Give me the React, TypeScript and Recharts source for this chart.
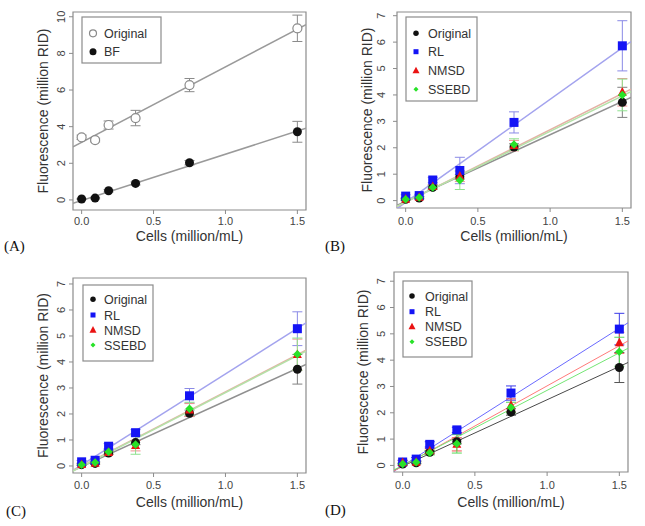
import React from "react";
import {
  ComposedChart,
  Scatter,
  XAxis,
  YAxis,
  ErrorBar,
  ReferenceLine,
  ReferenceArea,
} from "recharts";

// cell concentrations (million/mL), shared by every panel
const cells = [0, 0.09375, 0.1875, 0.375, 0.75, 1.5];
const cellTicks = [0, 0.5, 1, 1.5];
// the fitted lines are read where they meet the plot box
const fitEnds = [-0.06, 1.56];
const ticksA = [0, 2, 4, 6, 8, 10];
const ticks7 = [0, 1, 2, 3, 4, 5, 6, 7];

// (A) raw signal vs background-free
const rawOriginal = [3.42, 3.27, 4.09, 4.47, 6.27, 9.37];
const rawOriginalSd = [0.12, 0.1, 0.22, 0.42, 0.36, 0.72];
const rawOriginalFit = [2.9, 9.57];
const bf = [0.05, 0.1, 0.5, 0.9, 2.03, 3.72];
const bfSd = [0.03, 0.04, 0.06, 0.08, 0.12, 0.57];
const bfFit = [-0.18, 3.91];

// (B)
const rlB = [0.17, 0.19, 0.78, 1.14, 2.96, 5.86];
const rlBSd = [0.05, 0.05, 0.1, 0.5, 0.4, 0.95];
const rlBFit = [-0.3, 6.02];
const nmsdB = [0.05, 0.12, 0.53, 0.92, 2.08, 4.1];
const nmsdBSd = [0.03, 0.04, 0.08, 0.2, 0.2, 0.52];
const nmsdBFit = [-0.23, 4.22];
const ssebdB = [0.05, 0.12, 0.5, 0.77, 2.12, 4.0];
const ssebdBSd = [0.03, 0.04, 0.08, 0.35, 0.22, 0.6];
const ssebdBFit = [-0.22, 4.12];

// (C)
const rlC = [0.16, 0.22, 0.76, 1.28, 2.7, 5.28];
const rlCSd = [0.05, 0.05, 0.1, 0.12, 0.28, 0.65];
const rlCFit = [-0.17, 5.5];
const nmsdC = [0.05, 0.1, 0.52, 0.78, 2.15, 4.28];
const nmsdCSd = [0.03, 0.04, 0.08, 0.2, 0.25, 0.6];
const nmsdCFit = [-0.18, 4.45];
const ssebdC = [0.05, 0.13, 0.55, 0.83, 2.2, 4.3];
const ssebdCSd = [0.03, 0.04, 0.08, 0.38, 0.25, 0.62];
const ssebdCFit = [-0.2, 4.42];

// (D)
const rlD = [0.13, 0.24, 0.8, 1.35, 2.75, 5.18];
const rlDSd = [0.05, 0.06, 0.1, 0.1, 0.27, 0.6];
const rlDFit = [-0.22, 5.42];
const nmsdD = [0.1, 0.12, 0.55, 0.8, 2.28, 4.66];
const nmsdDSd = [0.1, 0.04, 0.08, 0.25, 0.25, 0.4];
const nmsdDFit = [-0.21, 4.73];
const ssebdD = [0.05, 0.12, 0.48, 0.82, 2.2, 4.32];
const ssebdDSd = [0.03, 0.04, 0.08, 0.35, 0.2, 0.55];
const ssebdDFit = [-0.17, 4.45];

const pts = (ys: number[], sds: number[]) =>
  cells.map((x, i) => ({ x, y: ys[i], sd: sds[i] }));

const FONT = "'Liberation Sans', Arial, sans-serif";
const BOX = "#8c8c8c";

function mark(shape: string, cx: number, cy: number, s: number, fill: string, key?: any) {
  if (shape === "square")
    return <rect key={key} x={cx - s / 2} y={cy - s / 2} width={s} height={s} fill={fill} />;
  if (shape === "triangle")
    return (
      <polygon
        key={key}
        points={`${cx},${cy - s * 0.58} ${cx - s / 2},${cy + s * 0.38} ${cx + s / 2},${cy + s * 0.38}`}
        fill={fill}
      />
    );
  if (shape === "diamond")
    return (
      <polygon
        key={key}
        points={`${cx},${cy - s / 2} ${cx + s / 2},${cy} ${cx},${cy + s / 2} ${cx - s / 2},${cy}`}
        fill={fill}
      />
    );
  if (shape === "ring")
    return <circle key={key} cx={cx} cy={cy} r={s / 2} fill="#fff" stroke={fill} strokeWidth={1.2} />;
  return <circle key={key} cx={cx} cy={cy} r={s / 2} fill={fill} />;
}

interface Series {
  name: string;
  data: { x: number; y: number; sd: number }[];
  fit: number[];
  shape: string;
  fill: string;
  bar: string;
  line: string;
  lineW: number;
  size: number;
  keySize: number;
}

interface PanelCfg {
  tag: string;
  left: number;
  top: number;
  width: number;
  box: { l: number; r: number; t: number; b: number };
  yDomain: number[];
  yTicks: number[];
  gapL: number;
  gapB: number;
  yTitleX: number;
  xTitleY: number;
  tagX: number;
  tagY: number;
  legend: { x: number; y: number; w: number; h: number; symX: number; textX: number; rows: number[] };
  series: Series[];
}

const H = 260;

function Panel({ cfg }: { cfg: PanelCfg }) {
  const { box, series, legend } = cfg;
  const xAxisH = H - box.b;
  return (
    <div style={{ position: "absolute", left: cfg.left, top: cfg.top, width: cfg.width, height: 265 }}>
      <ComposedChart
        width={cfg.width}
        height={H}
        margin={{ top: box.t, right: cfg.width - box.r, bottom: 0, left: 0 }}
        style={{ fontFamily: FONT }}
      >
        <XAxis
          type="number"
          dataKey="x"
          domain={[fitEnds[0], fitEnds[1]]}
          allowDataOverflow
          ticks={cellTicks}
          height={xAxisH}
          tickSize={4}
          tickMargin={0}
          axisLine={false}
          tickLine={{ stroke: BOX }}
          tick={(p: any) => (
            <text x={p.x} y={p.y + cfg.gapB} textAnchor="middle" fontSize={11} fill="#444" fontFamily={FONT}>
              {Number(p.payload.value).toFixed(1)}
            </text>
          )}
          label={{
            value: "Cells (million/mL)",
            position: "insideBottom",
            offset: H - cfg.xTitleY,
            style: { fontSize: 14, fill: "#333", fontFamily: FONT },
          }}
        />
        <YAxis
          type="number"
          dataKey="y"
          domain={cfg.yDomain}
          allowDataOverflow
          ticks={cfg.yTicks}
          width={box.l}
          tickSize={4}
          tickMargin={0}
          axisLine={false}
          tickLine={{ stroke: BOX }}
          tick={(p: any) => {
            const tx = p.x + 4 - cfg.gapL + 4;
            return (
              <text
                x={tx}
                y={p.y}
                transform={`rotate(-90 ${tx} ${p.y})`}
                textAnchor="middle"
                fontSize={11}
                fill="#444"
                fontFamily={FONT}
              >
                {p.payload.value}
              </text>
            );
          }}
          label={{
            value: "Fluorescence (million RID)",
            angle: -90,
            position: "insideLeft",
            offset: cfg.yTitleX,
            style: { fontSize: 14, fill: "#333", fontFamily: FONT, textAnchor: "middle" },
          }}
        />
        <ReferenceArea
          x1={fitEnds[0]}
          x2={fitEnds[1]}
          y1={cfg.yDomain[0]}
          y2={cfg.yDomain[1]}
          fill="none"
          fillOpacity={0}
          stroke={BOX}
          strokeWidth={1.2}
          ifOverflow="visible"
        />
        {series.map((s) => (
          <ReferenceLine
            key={"fit-" + s.name}
            segment={[
              { x: fitEnds[0], y: s.fit[0] },
              { x: fitEnds[1], y: s.fit[1] },
            ]}
            stroke={s.line}
            strokeWidth={s.lineW}
            ifOverflow="hidden"
          />
        ))}
        {series.map((s) => (
          <Scatter
            key={s.name}
            name={s.name}
            data={s.data}
            dataKey="y"
            isAnimationActive={false}
            shape={(p: any) => mark(s.shape, p.cx, p.cy, s.size, s.fill)}
          >
            <ErrorBar dataKey="sd" direction="y" width={5} stroke={s.bar} strokeWidth={1} />
          </Scatter>
        ))}
      </ComposedChart>
      <svg
        width={cfg.width}
        height={265}
        style={{ position: "absolute", left: 0, top: 0, pointerEvents: "none" }}
      >
        <rect x={legend.x} y={legend.y} width={legend.w} height={legend.h} fill="#fff" stroke={BOX} strokeWidth={1.2} />
        {series.map((s, i) => (
          <g key={s.name}>
            {mark(s.shape, legend.symX, legend.rows[i], s.keySize, s.fill)}
            <text x={legend.textX} y={legend.rows[i] + 4.5} fontSize={12.5} fill="#333" fontFamily={FONT}>
              {s.name}
            </text>
          </g>
        ))}
        <text x={cfg.tagX} y={cfg.tagY} fontSize={15} fill="#111" fontFamily="'Liberation Serif', 'Times New Roman', serif">
          {cfg.tag}
        </text>
      </svg>
    </div>
  );
}

const pale = { orig: "#909090", rl: "#a3a3ee", nmsd: "#e4b0a4", ssebd: "#b4e2a8" };
const paleBar = { orig: "#808080", rl: "#8a8ae6", nmsd: "#f08f8f", ssebd: "#8fe28f" };
const fillC = { orig: "#111111", rl: "#1414f5", nmsd: "#ea1212", ssebd: "#28e228" };

function fourSeries(
  rl: number[], rlSd: number[], rlFit: number[],
  nm: number[], nmSd: number[], nmFit: number[],
  ss: number[], ssSd: number[], ssFit: number[],
  lines: { orig: string; rl: string; nmsd: string; ssebd: string },
  bars: { orig: string; rl: string; nmsd: string; ssebd: string },
  lineW: number
): Series[] {
  return [
    { name: "Original", data: pts(bf, bfSd), fit: bfFit, shape: "circle", fill: fillC.orig, bar: bars.orig, line: lines.orig, lineW, size: 9, keySize: 5.5 },
    { name: "RL", data: pts(rl, rlSd), fit: rlFit, shape: "square", fill: fillC.rl, bar: bars.rl, line: lines.rl, lineW, size: 9, keySize: 5 },
    { name: "NMSD", data: pts(nm, nmSd), fit: nmFit, shape: "triangle", fill: fillC.nmsd, bar: bars.nmsd, line: lines.nmsd, lineW, size: 9, keySize: 7 },
    { name: "SSEBD", data: pts(ss, ssSd), fit: ssFit, shape: "diamond", fill: fillC.ssebd, bar: bars.ssebd, line: lines.ssebd, lineW, size: 8.5, keySize: 5 },
  ];
}

const panels: PanelCfg[] = [
  {
    tag: "(A)", left: 0, top: 0, width: 320,
    box: { l: 73, r: 306, t: 12, b: 210 },
    yDomain: [-0.55, 10.26], yTicks: ticksA,
    gapL: 11.7, gapB: 11, yTitleX: 43, xTitleY: 241, tagX: 4, tagY: 251,
    legend: { x: 82, y: 17, w: 79, h: 46, symX: 93, textX: 104, rows: [33.3, 51.7] },
    series: [
      { name: "Original", data: pts(rawOriginal, rawOriginalSd), fit: rawOriginalFit, shape: "ring", fill: "#8a8a8a", bar: "#8a8a8a", line: "#9a9a9a", lineW: 1.5, size: 9, keySize: 7 },
      { name: "BF", data: pts(bf, bfSd), fit: bfFit, shape: "circle", fill: "#111", bar: "#8a8a8a", line: "#9a9a9a", lineW: 1.5, size: 9, keySize: 7 },
    ],
  },
  {
    tag: "(B)", left: 320, top: 0, width: 325,
    box: { l: 77, r: 311, t: 12, b: 208 },
    yDomain: [-0.28, 7.14], yTicks: ticks7,
    gapL: 16, gapB: 13, yTitleX: 47, xTitleY: 241, tagX: 5, tagY: 251,
    legend: { x: 86, y: 17, w: 71, h: 84, symX: 96, textX: 108, rows: [33.3, 51.7, 70.7, 89.3] },
    series: fourSeries(rlB, rlBSd, rlBFit, nmsdB, nmsdBSd, nmsdBFit, ssebdB, ssebdBSd, ssebdBFit, pale, paleBar, 1.5),
  },
  {
    tag: "(C)", left: 0, top: 265, width: 320,
    box: { l: 73, r: 306, t: 13, b: 208 },
    yDomain: [-0.27, 7.23], yTicks: ticks7,
    gapL: 11.7, gapB: 11.7, yTitleX: 43, xTitleY: 241.5, tagX: 6, tagY: 251,
    legend: { x: 83, y: 20, w: 70, h: 76, symX: 93, textX: 104, rows: [34.3, 50, 65, 80] },
    series: fourSeries(rlC, rlCSd, rlCFit, nmsdC, nmsdCSd, nmsdCFit, ssebdC, ssebdCSd, ssebdCFit, pale, paleBar, 1.5),
  },
  {
    tag: "(D)", left: 320, top: 265, width: 325,
    box: { l: 74, r: 308, t: 7, b: 207 },
    yDomain: [-0.25, 7.35], yTicks: ticks7,
    gapL: 13, gapB: 12.7, yTitleX: 43, xTitleY: 242, tagX: 5, tagY: 250,
    legend: { x: 83, y: 16, w: 69, h: 76, symX: 92, textX: 105, rows: [31, 46.7, 61.7, 76.7] },
    series: fourSeries(
      rlD, rlDSd, rlDFit, nmsdD, nmsdDSd, nmsdDFit, ssebdD, ssebdDSd, ssebdDFit,
      { orig: "#4a4a4a", rl: "#6a6aff", nmsd: "#ff7a7a", ssebd: "#74e674" },
      { orig: "#555555", rl: "#3a3ae8", nmsd: "#f05050", ssebd: "#5ad85a" },
      1
    ),
  },
];

export default function App() {
  return (
    <div style={{ position: "absolute", left: 0, top: 0, width: 645, height: 526, background: "#fff" }}>
      {panels.map((p) => (
        <Panel key={p.tag} cfg={p} />
      ))}
    </div>
  );
}
